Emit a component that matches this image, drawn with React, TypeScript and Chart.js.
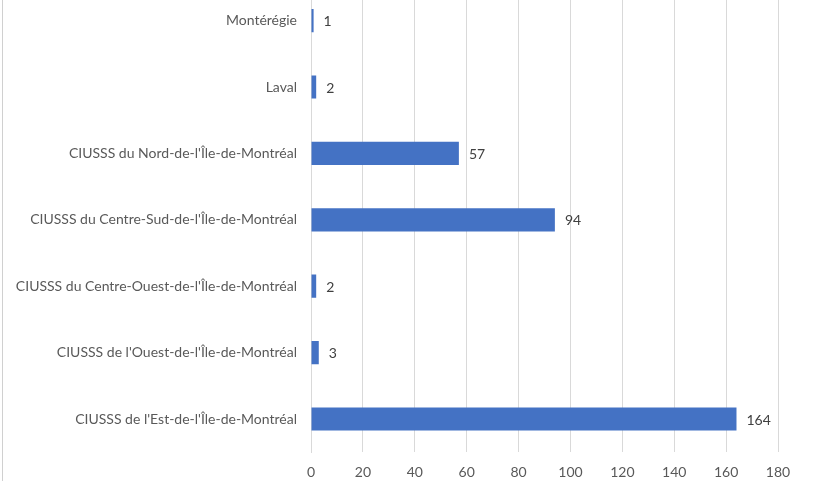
import React, { useEffect, useRef } from "react";
import { Chart, registerables } from "chart.js";

Chart.register(...registerables);

const categories = [
  "Montérégie",
  "Laval",
  "CIUSSS du Nord-de-l'Île-de-Montréal",
  "CIUSSS du Centre-Sud-de-l'Île-de-Montréal",
  "CIUSSS du Centre-Ouest-de-l'Île-de-Montréal",
  "CIUSSS de l'Ouest-de-l'Île-de-Montréal",
  "CIUSSS de l'Est-de-l'Île-de-Montréal",
];
const values = [1, 2, 57, 94, 2, 3, 164];
const xMin = 0;
const xMax = 180;
const xStep = 20;

const FONT = "Lato, 'Open Sans', sans-serif";
const CANVAS_H = 529;
const SHIFT = 35;

const valueLabels = {
  id: "valueLabels",
  afterDatasetsDraw(chart: any) {
    const ctx = chart.ctx;
    const meta = chart.getDatasetMeta(0);
    ctx.save();
    ctx.font = `14px ${FONT}`;
    ctx.fillStyle = "#404040";
    ctx.textAlign = "left";
    ctx.textBaseline = "middle";
    meta.data.forEach((bar: any, i: number) => {
      ctx.fillText(String(values[i]), bar.x + 10, bar.y + 1);
    });
    ctx.restore();
  },
};

export default function App() {
  const ref = useRef<HTMLCanvasElement | null>(null);
  useEffect(() => {
    document.body.style.margin = "0";
    const chart = new Chart(ref.current as HTMLCanvasElement, {
      type: "bar",
      data: {
        labels: categories,
        datasets: [
          {
            data: values,
            backgroundColor: "#4472C4",
            borderWidth: 0,
            categoryPercentage: 1,
            barPercentage: 0.35,
          },
        ],
      },
      options: {
        indexAxis: "y",
        animation: false,
        responsive: false,
        maintainAspectRatio: false,
        layout: { padding: { top: 0, right: 36, bottom: 1, left: 0 } },
        plugins: {
          legend: { display: false },
          tooltip: { enabled: false },
        },
        scales: {
          x: {
            min: xMin,
            max: xMax,
            ticks: {
              stepSize: xStep,
              padding: 12,
              color: "#595959",
              font: { family: FONT, size: 14 },
            },
            grid: { color: "#d9d9d9", drawTicks: false },
            border: { display: false },
          },
          y: {
            afterFit: (scale: any) => {
              scale.width = 311;
            },
            ticks: {
              padding: 14,
              color: "#595959",
              font: { family: FONT, size: 14 },
            },
            grid: { display: false, drawTicks: false },
            border: { display: true, color: "#d9d9d9" },
          },
        },
      },
      plugins: [valueLabels],
    });
    return () => chart.destroy();
  }, []);
  return (
    <div
      style={{
        position: "fixed",
        left: 0,
        top: 0,
        width: 814,
        height: 481,
        overflow: "hidden",
        background: "#fff",
      }}
    >
      <div
        style={{
          position: "absolute",
          left: 2,
          top: 0,
          width: 1,
          height: 481,
          background: "#d0d0d0",
        }}
      />
      <canvas
        ref={ref}
        width={814}
        height={CANVAS_H}
        style={{ position: "absolute", left: 0, top: -SHIFT, width: 814, height: CANVAS_H }}
      />
    </div>
  );
}
